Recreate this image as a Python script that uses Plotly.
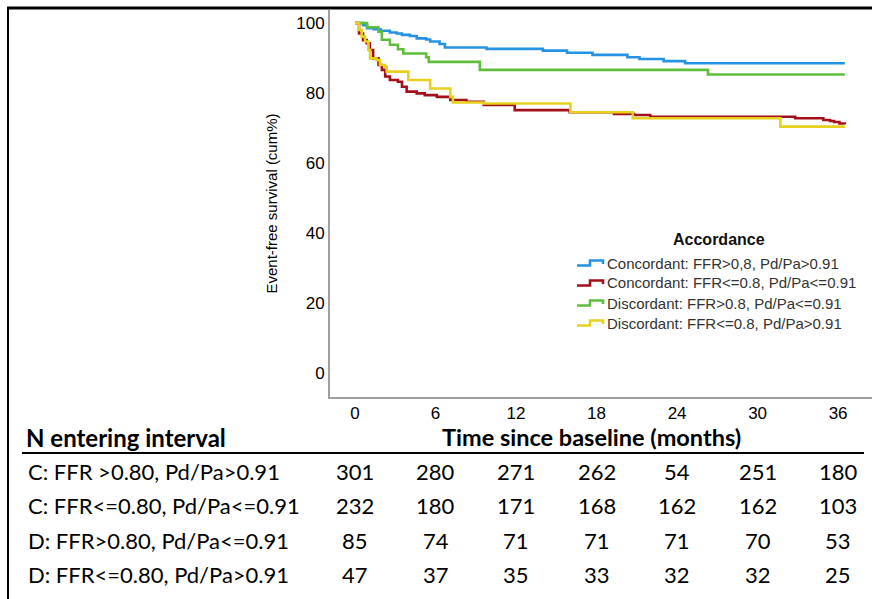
import plotly.graph_objects as go

# ---- Kaplan-Meier estimates (months, cumulative event-free %) ----
groups = [
    "Concordant: FFR>0,8, Pd/Pa>0.91",
    "Concordant: FFR<=0.8, Pd/Pa<=0.91",
    "Discordant: FFR>0.8, Pd/Pa<=0.91",
    "Discordant: FFR<=0.8, Pd/Pa>0.91",
]
colors = ["#2593e3", "#a3101a", "#5fbf3c", "#e6d21c"]

t_cc_neg = [0, 0.6, 0.9, 1.4, 1.9, 2.6, 3.1, 3.5, 4.1, 4.6, 5.3, 5.6, 6.3, 6.7,
            9.8, 14.0, 15.8, 17.7, 20.3, 21.2, 23.0, 24.6, 36.5]
s_cc_neg = [100, 99.4, 98.5, 98.2, 97.8, 97.3, 97.0, 96.6, 96.3, 95.6, 95.3, 94.7,
            94.0, 93.0, 92.6, 92.1, 91.5, 90.9, 90.2, 89.7, 89.1, 88.5, 88.5]

t_cc_pos = [0, 0.3, 0.6, 0.87, 1.1, 1.35, 1.75, 2.0, 2.25, 2.6, 3.2, 3.5, 3.85,
            4.6, 5.2, 6.1, 7.1, 8.3, 9.6, 11.9, 16.0, 19.3, 20.8, 22.0, 32.8,
            34.9, 35.4, 35.7, 36.1, 36.5]
s_cc_pos = [100, 97.0, 95.1, 94.2, 92.3, 89.9, 88.0, 86.6, 84.7, 83.7, 83.2, 81.8,
            80.4, 79.9, 79.4, 78.9, 78.0, 77.5, 76.6, 75.1, 74.5, 74.0, 73.7, 73.2,
            72.8, 72.3, 72.0, 71.7, 71.3, 71.1]

t_dc_ffr_neg = [0, 0.9, 1.75, 2.0, 2.6, 3.2, 3.6, 5.3, 5.5, 9.3, 26.3, 36.5]
s_dc_ffr_neg = [100, 98.8, 97.5, 95.2, 93.8, 92.5, 91.3, 90.2, 88.9, 86.6, 85.3, 85.3]

t_dc_ffr_pos = [0, 0.3, 0.5, 0.75, 1.0, 1.12, 1.6, 1.86, 2.24, 2.36, 3.97, 5.6,
                7.1, 7.3, 9.6, 16.05, 20.7, 31.7, 36.5]
s_dc_ffr_pos = [100, 98.0, 96.1, 94.7, 92.3, 89.9, 89.4, 88.0, 87.5, 86.1, 83.7,
                81.3, 78.9, 77.3, 77.0, 74.5, 72.8, 70.4, 70.4]

times = [t_cc_neg, t_cc_pos, t_dc_ffr_neg, t_dc_ffr_pos]
survival = [s_cc_neg, s_cc_pos, s_dc_ffr_neg, s_dc_ffr_pos]

# ---- numbers at risk ----
risk_times = [0, 6, 12, 18, 24, 30, 36]
risk_labels = [
    "C: FFR >0.80, Pd/Pa>0.91",
    "C: FFR<=0.80, Pd/Pa<=0.91",
    "D: FFR>0.80, Pd/Pa<=0.91",
    "D: FFR<=0.80, Pd/Pa>0.91",
]
risk_c_neg = [301, 280, 271, 262, 54, 251, 180]
risk_c_pos = [232, 180, 171, 168, 162, 162, 103]
risk_d_ffr_neg = [85, 74, 71, 71, 71, 70, 53]
risk_d_ffr_pos = [47, 37, 35, 33, 32, 32, 25]
risk_rows = [risk_c_neg, risk_c_pos, risk_d_ffr_neg, risk_d_ffr_pos]

y_ticks = [0, 20, 40, 60, 80, 100]

# ---- page geometry (pixels) ----
FIG_W, FIG_H = 872, 599
L, R, T, B = 330, 872, 10, 397
W, H = R - L, B - T


def px(xp):
    return (xp - L) / W


def py(yp):
    return (B - yp) / H


AXIS_FONT = "Liberation Sans, Arial, sans-serif"
TABLE_FONT = "Lato, Open Sans, sans-serif"
TABLE_SIZE = 22

fig = go.Figure()
for name, t, s, c in zip(groups, times, survival, colors):
    fig.add_trace(go.Scatter(
        x=t, y=s, mode="lines", name=name, showlegend=False,
        line=dict(color=c, width=2.6, shape="hv"),
    ))

annotations = []
shapes = []

# y-axis title
annotations.append(dict(
    x=px(271), y=0.5, xref="paper", yref="paper", text="Event-free survival (cum%)",
    textangle=-90, showarrow=False, xanchor="center", yanchor="middle",
    font=dict(family=AXIS_FONT, size=15, color="#000"),
))

# legend block
annotations.append(dict(
    x=px(719), y=py(239), xref="paper", yref="paper", text="<b>Accordance</b>",
    showarrow=False, xanchor="center", yanchor="middle",
    font=dict(family=AXIS_FONT, size=16, color="#111"),
))
legend_rows = [263, 283, 303, 323]
for name, c, yr in zip(groups, colors, legend_rows):
    annotations.append(dict(
        x=px(605), y=py(yr), xref="paper", yref="paper", text=name,
        showarrow=False, xanchor="left", yanchor="middle",
        font=dict(family=AXIS_FONT, size=15, color="#333"),
    ))
    shapes.append(dict(
        type="path", xref="paper", yref="paper",
        xsizemode="pixel", ysizemode="pixel", xanchor=px(577), yanchor=py(yr),
        path="M0,-2.5 H13 V2.5 H26 V-1",
        line=dict(color=c, width=2.6),
    ))

# risk table
annotations.append(dict(
    x=px(24), y=py(437), xref="paper", yref="paper", text="<b>N entering interval</b>",
    showarrow=False, xanchor="left", yanchor="middle",
    font=dict(family=TABLE_FONT, size=TABLE_SIZE + 2, color="#000"),
))
annotations.append(dict(
    x=px(591), y=py(437), xref="paper", yref="paper",
    text="<b>Time since baseline (months)</b>",
    showarrow=False, xanchor="center", yanchor="middle",
    font=dict(family=TABLE_FONT, size=TABLE_SIZE + 1.5, color="#000"),
))
row_y = [472, 506, 540, 574]
for label, counts, yr in zip(risk_labels, risk_rows, row_y):
    annotations.append(dict(
        x=px(26), y=py(yr), xref="paper", yref="paper", text=label,
        showarrow=False, xanchor="left", yanchor="middle",
        font=dict(family=TABLE_FONT, size=TABLE_SIZE, color="#000"),
    ))
    for tt, n in zip(risk_times, counts):
        annotations.append(dict(
            x=tt, y=py(yr), xref="x", yref="paper", text=str(n),
            showarrow=False, xanchor="center", yanchor="middle",
            font=dict(family=TABLE_FONT, size=TABLE_SIZE, color="#000"),
        ))

# rules: frame and table header line
shapes.append(dict(type="line", xref="paper", yref="paper",
                   x0=px(7), x1=px(872), y0=py(8), y1=py(8),
                   line=dict(color="#000", width=3)))
shapes.append(dict(type="line", xref="paper", yref="paper",
                   x0=px(8), x1=px(8), y0=py(8), y1=py(599),
                   line=dict(color="#000", width=2)))
shapes.append(dict(type="line", xref="paper", yref="paper",
                   x0=px(22), x1=px(864), y0=py(453), y1=py(453),
                   line=dict(color="#000", width=2)))

fig.update_layout(
    width=FIG_W, height=FIG_H,
    margin=dict(l=L, r=FIG_W - R, t=T, b=FIG_H - B, pad=0),
    paper_bgcolor="white", plot_bgcolor="white",
    annotations=annotations, shapes=shapes,
    xaxis=dict(
        range=[(L - 355) / 13.42, (R - 355) / 13.42],
        tickvals=risk_times, ticktext=[str(v) for v in risk_times],
        showgrid=False, zeroline=False, showline=True, linecolor="#a0a0a0", linewidth=2,
        ticks="", tickfont=dict(family=AXIS_FONT, size=17, color="#000"),
    ),
    yaxis=dict(
        range=[(373 - B) / 3.5, (373 - T) / 3.5],
        tickvals=y_ticks, ticktext=[str(v) for v in y_ticks],
        showgrid=False, zeroline=False, showline=True, linecolor="#a0a0a0", linewidth=2,
        ticks="", tickfont=dict(family=AXIS_FONT, size=17, color="#000"),
    ),
    showlegend=False,
)

fig.write_html("out.html")
